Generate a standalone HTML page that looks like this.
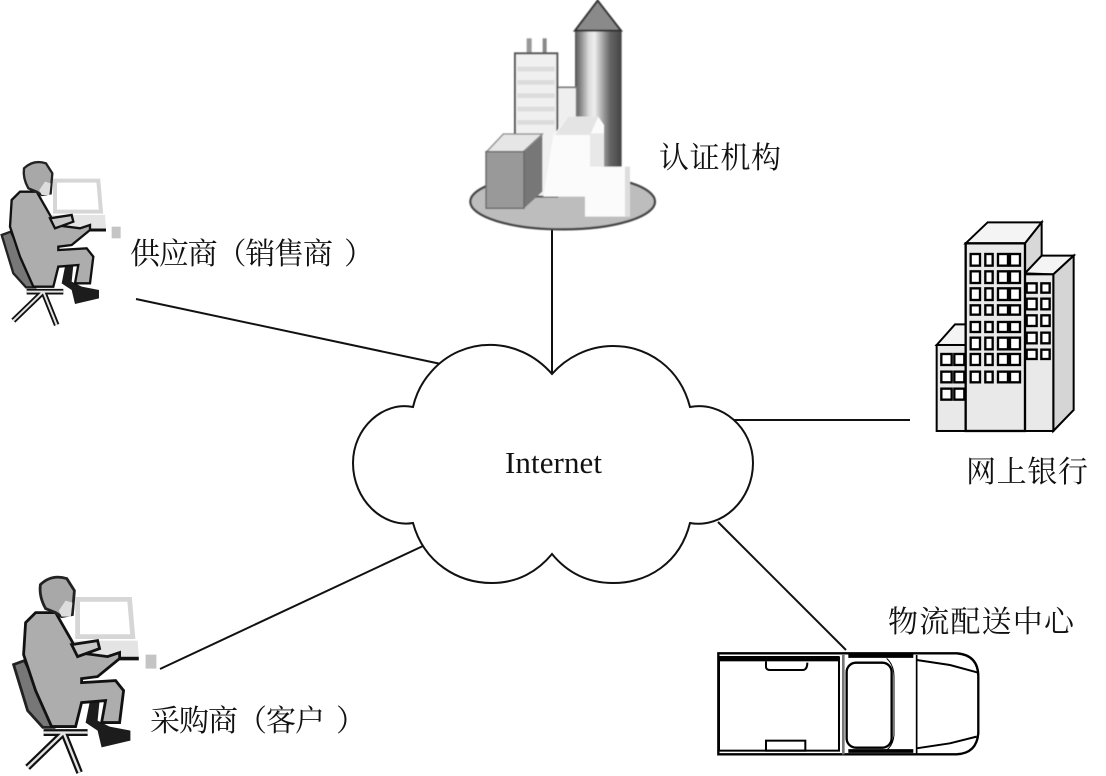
<!DOCTYPE html>
<html><head><meta charset="utf-8"><style>
html,body{margin:0;padding:0;background:#fff}
svg{display:block}
text.c{font-family:"Liberation Serif","Noto Serif CJK SC",serif;font-size:30px;fill:#111}
</style></head><body>
<svg width="1106" height="776" viewBox="0 0 1106 776" xmlns="http://www.w3.org/2000/svg">
<defs>
<filter id="soft" x="-5%" y="-5%" width="110%" height="110%"><feGaussianBlur stdDeviation="1.2"/></filter>
<linearGradient id="cyl" x1="0" x2="1" y1="0" y2="0">
<stop offset="0" stop-color="#555"/><stop offset=".12" stop-color="#888"/><stop offset=".3" stop-color="#ddd"/><stop offset=".42" stop-color="#eee"/><stop offset=".62" stop-color="#999"/><stop offset=".75" stop-color="#666"/><stop offset="1" stop-color="#444"/>
</linearGradient>
<g id="person">
<path d="M80 425 H190 M130 425 L40 512 M130 425 L170 525" stroke="#111" stroke-width="17" fill="none"/>
<path d="M80 425 H190 M130 425 L40 512 M130 425 L170 525" stroke="#e4e4e4" stroke-width="6" fill="none"/>
<path d="M5 255 L32 245 L70 320 L105 412 L78 412 L40 370 Z" fill="#777" stroke="#222" stroke-width="7"/>
<path d="M165 92 H295 L303 185 H165 Z" fill="#fff" stroke="#d6d6d6" stroke-width="12"/>
<path d="M150 195 H315 L318 235 H165 Z" fill="#e4e4e4"/>
<path d="M270 240 H318" stroke="#111" stroke-width="9"/>
<path d="M335 230 H362 V265 H335 Z" fill="#c4c4c4"/>
<path d="M185 400 L195 350 L220 345 L215 395 L245 410 L297 420 L297 445 L225 462 L215 420 Z" fill="#1c1c1c"/>
<path d="M35 150 L60 125 L110 125 L150 195 L165 225 L240 235 L270 225 L270 240 L215 285 L175 290 L175 300 L260 295 L280 320 L270 400 L225 400 L235 345 L175 350 L160 410 L100 410 L60 320 L30 230 Z" fill="#adadad" stroke="#111" stroke-width="7"/>
<path d="M72 55 Q100 28 138 40 L157 70 L152 130 L125 135 L110 125 L85 115 Q68 85 72 55Z" fill="#a8a8a8" stroke="#222" stroke-width="7"/>
<path d="M118 120 L135 95 L152 100 L148 135 L125 135 Z" fill="#ddd"/>
<path d="M150 205 L215 195 L220 215 L165 235 Z" fill="#c8c8c8" stroke="#111" stroke-width="7"/>
</g>
</defs>

<!-- connectors -->
<g stroke="#111" stroke-width="2" fill="none">
<path d="M136 299 L441 364"/>
<path d="M552 228 V374"/>
<path d="M734 420 H910"/>
<path d="M160 669 L423 546"/>
<path d="M718 522 L846 650"/>
</g>

<!-- cloud -->
<path d="M552 374 C518 335 462 336 431 372 C422 382 416 394 413 407 C383 401 353 428 353 463 C353 500 383 528 413 523 C424 563 458 583 492 583 C518 583 538 571 552 554 C566 571 586 583 613 583 C648 583 680 563 690 523 C722 529 753 500 753 463 C753 428 722 401 690 407 C680 368 648 346 613 346 C588 346 566 358 552 374 Z" fill="#fff" stroke="#111" stroke-width="2"/>
<text x="505" y="473" font-family="Liberation Serif, serif" font-size="31" fill="#111" textLength="97">Internet</text>

<!-- people -->
<g transform="translate(0,150) scale(.3333)"><use href="#person"/></g>
<g transform="translate(11.6,382.6) scale(1.2)"><g transform="translate(0,150) scale(.3333)"><use href="#person"/></g></g>

<!-- city -->
<g transform="translate(460,0) scale(.3333)" filter="url(#soft)">
<ellipse cx="308" cy="605" rx="277" ry="83" fill="#bdbdbd" stroke="#444" stroke-width="7"/>
<rect x="200" y="115" width="15" height="45" fill="#999"/><rect x="248" y="115" width="12" height="45" fill="#888"/>
<rect x="345" y="92" width="140" height="420" fill="url(#cyl)"/>
<path d="M345 92 L413 2 L483 92 Z" fill="#8a8a8a" stroke="#333" stroke-width="6"/>
<rect x="290" y="262" width="60" height="130" fill="#efefef" stroke="#777" stroke-width="5"/>
<rect x="165" y="160" width="127" height="430" fill="#f0f0f0" stroke="#555" stroke-width="6"/>
<g fill="#dcdcdc"><rect x="172" y="200" width="112" height="14"/><rect x="172" y="240" width="112" height="14"/><rect x="172" y="280" width="112" height="14"/><rect x="172" y="320" width="112" height="14"/><rect x="172" y="360" width="112" height="14"/></g>
<path d="M280 405 L325 350 H415 L432 375 V500 H510 V650 H375 V590 H250 Z" fill="#fbfbfb"/>
<path d="M325 350 H415 L390 405 H285 Z" fill="#e4e4e4"/>
<rect x="390" y="400" width="42" height="100" fill="#e8e8e8"/>
<path d="M495 500 H510 V650 H495 Z" fill="#ddd"/>
<path d="M80 455 L130 402 H247 L190 455 Z" fill="#e6e6e6" stroke="#888" stroke-width="4"/>
<path d="M192 455 L247 405 V575 L192 625 Z" fill="#777"/>
<rect x="78" y="455" width="114" height="170" fill="#999" stroke="#666" stroke-width="4"/>
</g>

<!-- bank -->
<g transform="translate(925,215) scale(.3333)">
<path d="M35 390 L90 328 H125 V390 Z" fill="#f4f4f4" stroke="#000" stroke-width="6"/>
<path d="M122 85 L188 22 H350 L300 85 Z" fill="#f4f4f4" stroke="#000" stroke-width="6"/>
<path d="M300 85 L350 22 V125 L300 175 Z" fill="#d8d8d8" stroke="#000" stroke-width="6"/>
<path d="M300 175 L350 122 H446 L385 178 Z" fill="#f4f4f4" stroke="#000" stroke-width="6"/>
<path d="M385 178 L446 122 V585 L385 648 Z" fill="#d5d5d5" stroke="#000" stroke-width="6"/>
<rect x="300" y="178" width="85" height="470" fill="#e9e9e9" stroke="#000" stroke-width="6"/>
<rect x="35" y="390" width="87" height="258" fill="#e9e9e9" stroke="#000" stroke-width="6"/>
<rect x="122" y="85" width="178" height="563" fill="#e9e9e9" stroke="#000" stroke-width="7"/>
<g fill="#fff" stroke="#000" stroke-width="7">
<rect x="137" y="117" width="28" height="35"/><rect x="181" y="117" width="22" height="35"/><rect x="219" y="117" width="30" height="35"/><rect x="255" y="117" width="30" height="35"/>
<rect x="137" y="169" width="28" height="35"/><rect x="181" y="169" width="22" height="35"/><rect x="219" y="169" width="30" height="35"/><rect x="255" y="169" width="30" height="35"/>
<rect x="137" y="220" width="28" height="35"/><rect x="181" y="220" width="22" height="35"/><rect x="219" y="220" width="30" height="35"/><rect x="255" y="220" width="30" height="35"/>
<rect x="137" y="271" width="28" height="28"/><rect x="181" y="271" width="22" height="28"/><rect x="219" y="271" width="30" height="28"/><rect x="255" y="271" width="30" height="28"/>
<rect x="137" y="321" width="28" height="30"/><rect x="181" y="321" width="22" height="30"/><rect x="219" y="321" width="30" height="30"/><rect x="255" y="321" width="30" height="30"/>
<rect x="137" y="368" width="28" height="35"/><rect x="181" y="368" width="22" height="35"/><rect x="219" y="368" width="30" height="35"/><rect x="255" y="368" width="30" height="35"/>
<rect x="137" y="417" width="28" height="33"/><rect x="181" y="417" width="22" height="33"/><rect x="219" y="417" width="30" height="33"/><rect x="255" y="417" width="30" height="33"/>
<rect x="137" y="470" width="28" height="32"/><rect x="181" y="470" width="22" height="32"/><rect x="219" y="470" width="30" height="32"/><rect x="255" y="470" width="30" height="32"/>
<rect x="305" y="205" width="30" height="28"/><rect x="349" y="205" width="25" height="28"/>
<rect x="305" y="251" width="30" height="32"/><rect x="349" y="251" width="25" height="32"/>
<rect x="305" y="301" width="30" height="32"/><rect x="349" y="301" width="25" height="32"/>
<rect x="305" y="353" width="30" height="32"/><rect x="349" y="353" width="25" height="32"/>
<rect x="305" y="404" width="30" height="28"/><rect x="349" y="404" width="25" height="28"/>
<rect x="49" y="417" width="31" height="33"/><rect x="88" y="417" width="30" height="33"/>
<rect x="49" y="470" width="31" height="32"/><rect x="88" y="470" width="30" height="32"/>
<rect x="49" y="521" width="31" height="33"/><rect x="88" y="521" width="30" height="33"/>
</g>
</g>

<!-- truck -->
<g transform="translate(710,640) scale(.3333)" fill="none" stroke="#000">
<path d="M25 40 H740 Q805 45 805 110 V280 Q800 340 740 343 H25 Z" fill="#fff" stroke-width="7"/>
<rect x="27" y="52" width="360" height="280" fill="#fff" stroke-width="6"/>
<rect x="27" y="48" width="360" height="16" fill="#000" stroke="none"/>
<path d="M168 64 V82 Q170 90 180 90 H280 Q292 88 292 68" stroke-width="6"/>
<rect x="168" y="302" width="118" height="30" stroke-width="6"/>
<path d="M400 42 V343" stroke-width="8" stroke="#777"/>
<path d="M415 48 H610 M415 333 H610" stroke-width="11"/>
<rect x="410" y="68" width="135" height="255" rx="28" fill="#fff" stroke-width="7"/>
<path d="M530 55 Q552 75 552 110 V285 Q550 315 530 330" stroke-width="3"/>
<path d="M620 45 V343" stroke-width="5"/>
<path d="M620 60 L720 75 L805 98 M620 325 L720 310 L800 290" stroke-width="6"/>
</g>

<!-- labels -->
<text class="c" x="130" y="264" textLength="203" lengthAdjust="spacing">供应商（销售商</text>
<text class="c" x="344" y="264">）</text>
<text class="c" x="659" y="168" textLength="122" lengthAdjust="spacing">认证机构</text>
<text class="c" x="966" y="482" textLength="122" lengthAdjust="spacing">网上银行</text>
<text class="c" x="888" y="632" textLength="186" lengthAdjust="spacing">物流配送中心</text>
<text class="c" x="150" y="731" textLength="175" lengthAdjust="spacing">采购商（客户</text>
<text class="c" x="336" y="731">）</text>
</svg>
</body></html>
